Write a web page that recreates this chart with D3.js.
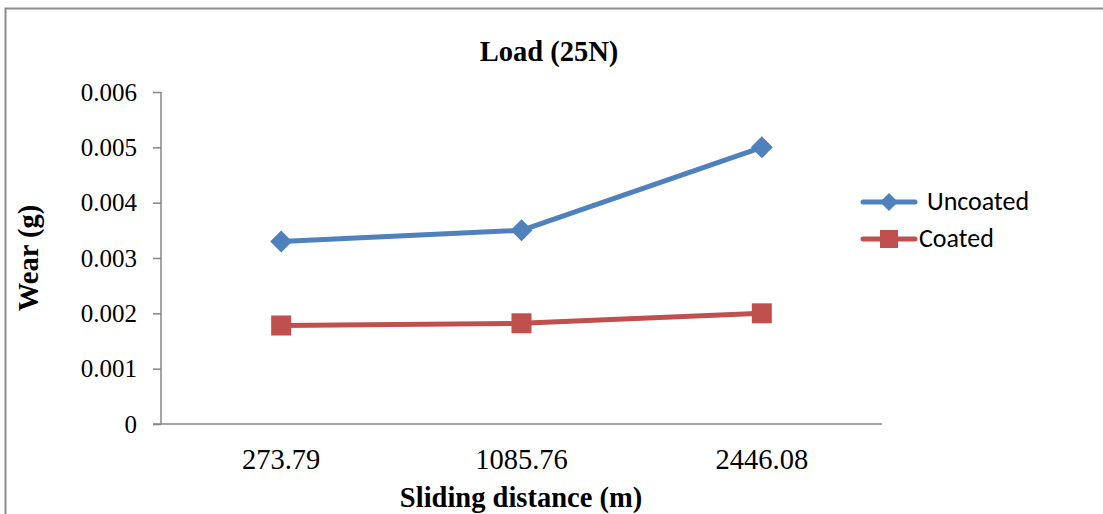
<!DOCTYPE html>
<html><head><meta charset="utf-8">
<script src="https://cdn.jsdelivr.net/npm/d3@7"></script>
<style>body{margin:0;background:#fff;}svg{display:block;}</style>
</head><body>
<svg id="c" width="1103" height="514"></svg>
<script>
const categories = ["273.79", "1085.76", "2446.08"];
const uncoated = [0.0033, 0.0035, 0.005];
const coated = [0.00178, 0.00182, 0.002];
const yTicks = [0, 0.001, 0.002, 0.003, 0.004, 0.005, 0.006];
const seriesNames = ["Uncoated", "Coated"];
const colors = ["#4F81BD", "#C0504D"];

const svg = d3.select("#c");
const serif = "'Liberation Serif', 'Times New Roman', serif";
// outer border
svg.append("path").attr("d", "M5.5,514 L5.5,8.5 L1103,8.5")
  .attr("fill", "none").attr("stroke", "#8c8c8c").attr("stroke-width", 2);

const x = d3.scaleBand().domain(categories).range([161, 882]);
const y = d3.scaleLinear().domain([0, 0.006]).range([424, 92]);

// Y axis
const yAxis = svg.append("g").attr("transform", "translate(161,0)")
  .call(d3.axisLeft(y).tickValues(yTicks).tickSize(8).tickPadding(16)
    .tickFormat(d => d === 0 ? "0" : d3.format(".3f")(d)));
yAxis.select(".domain").attr("stroke", "#868686").attr("stroke-width", 1.5).attr("d", "M0,92V424");
yAxis.selectAll(".tick line").attr("stroke", "#868686").attr("stroke-width", 1.5);
yAxis.selectAll("text").attr("font-family", serif).attr("font-size", 25).attr("fill", "#000");

// X axis
const xAxis = svg.append("g").attr("transform", "translate(0,424)")
  .call(d3.axisBottom(x).tickSize(0).tickPadding(25));
xAxis.select(".domain").attr("stroke", "#868686").attr("stroke-width", 1.5).attr("d", "M153,0H882");
xAxis.selectAll("text").attr("font-family", serif).attr("font-size", 28.5).attr("fill", "#000");

// Title & labels
svg.append("text").attr("x", 549).attr("y", 61).attr("text-anchor", "middle")
  .attr("font-family", serif).attr("font-weight", "bold").attr("font-size", 28.5)
  .text("Load (25N)");
svg.append("text").attr("x", 521).attr("y", 507).attr("text-anchor", "middle")
  .attr("font-family", serif).attr("font-weight", "bold").attr("font-size", 28.5)
  .text("Sliding distance (m)");
svg.append("text").attr("transform", "translate(38,258) rotate(-90)").attr("text-anchor", "middle")
  .attr("font-family", serif).attr("font-weight", "bold").attr("font-size", 28.5)
  .text("Wear (g)");

const cx = d => x(d) + x.bandwidth() / 2;
const line = d3.line().x(d => cx(d.c)).y(d => y(d.v));
const data = [uncoated, coated].map(arr => arr.map((v, i) => ({c: categories[i], v})));

data.forEach((s, si) => {
  svg.append("path").datum(s).attr("d", line).attr("fill", "none")
    .attr("stroke", colors[si]).attr("stroke-width", 5).attr("stroke-linejoin", "round");
});
// markers
const diamond = (px, py, r) => `M${px},${py - r}L${px + r},${py}L${px},${py + r}L${px - r},${py}Z`;
svg.selectAll(".dm").data(data[0]).enter().append("path")
  .attr("d", d => diamond(cx(d.c), y(d.v), 11)).attr("fill", colors[0]);
svg.selectAll(".sq").data(data[1]).enter().append("rect")
  .attr("x", d => cx(d.c) - 10).attr("y", d => y(d.v) - 10)
  .attr("width", 20).attr("height", 20).attr("fill", colors[1]);

// Legend
const lg = svg.append("g");
const legY = [202, 239];
seriesNames.forEach((n, i) => {
  lg.append("line").attr("x1", 863).attr("x2", 915).attr("y1", legY[i]).attr("y2", legY[i])
    .attr("stroke", colors[i]).attr("stroke-width", 5).attr("stroke-linecap", "round");
  if (i === 0) lg.append("path").attr("d", diamond(889, legY[i], 9)).attr("fill", colors[i]);
  else lg.append("rect").attr("x", 880).attr("y", legY[i] - 9).attr("width", 18).attr("height", 18).attr("fill", colors[i]);
  lg.append("text").attr("x", i === 0 ? 927 : 919).attr("y", legY[i] + 8)
    .attr("font-family", "Carlito, Lato, 'Liberation Sans', sans-serif").attr("font-size", 26)
    .attr("fill", "#000").text(n);
});
</script>
</body></html>
